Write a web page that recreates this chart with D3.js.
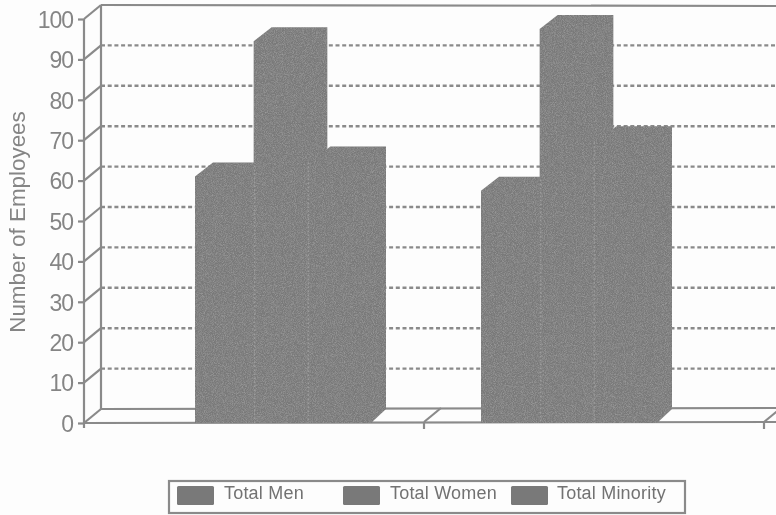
<!DOCTYPE html>
<html lang="en">
<head>
<meta charset="UTF-8">
<title>Number of Employees</title>
<script src="https://d3js.org/d3.v7.min.js"></script>
<style>
    html, body { margin: 0; padding: 0; background: #fdfdfd; }
    svg { display: block; }
    text { font-family: "Liberation Sans", Arial, sans-serif; }
</style>
</head>
<body>
<svg id="chart" width="776" height="515"></svg>
<script>
// values
var groups = ["Group 1", "Group 2"];
var series = ["Total Men", "Total Women", "Total Minority"];
var menValues = [61, 57.5];
var womenValues = [94.5, 97.5];
var minorityValues = [65, 70];
var yTicks = [0, 10, 20, 30, 40, 50, 60, 70, 80, 90, 100];
var values = [menValues, womenValues, minorityValues];

var gray = "#8a8a8a", barColor = "#797979", textColor = "#858585";
var dx = 17, dy = 14; // 3d depth
var barDxLeft = 18, barDxRight = 15; // the bar tops lean a little unevenly

var svg = d3.select("#chart");

var defs = svg.append("defs");
defs.append("filter").attr("id", "scan")
    .append("feGaussianBlur").attr("stdDeviation", 0.45);

// faint mottled print look on the dark fills
var grain = defs.append("filter").attr("id", "grain");
grain.append("feTurbulence")
    .attr("type", "fractalNoise").attr("baseFrequency", 1.1)
    .attr("numOctaves", 2).attr("seed", 4).attr("result", "n");
grain.append("feColorMatrix").attr("in", "n").attr("type", "matrix")
    .attr("values", "0 0 0 0 0.56  0 0 0 0 0.56  0 0 0 0 0.56  0.7 0 0 0 -0.26")
    .attr("result", "spots");
grain.append("feComposite").attr("in", "spots").attr("in2", "SourceGraphic")
    .attr("operator", "in").attr("result", "clipped");
var grainMerge = grain.append("feMerge");
grainMerge.append("feMergeNode").attr("in", "SourceGraphic");
grainMerge.append("feMergeNode").attr("in", "clipped");

var root = svg.append("g").attr("filter", "url(#scan)");

var y = d3.scaleLinear().domain([0, 100]).range([423, 19]);
// the category axis has even slots, the bars do not sit centred in them
var slot = d3.scalePoint().domain([0, 1, 2]).range([84, 764]);
var x0 = d3.scalePoint().domain(groups).range([195, 481]);
var x1 = d3.scaleBand().domain(series).range([0, 176]);

// back wall gridlines
root.selectAll(".grid")
    .data(yTicks.filter(function (d) { return d > 0 && d < 100; }))
    .enter().append("line")
    .attr("class", "grid")
    .attr("x1", 84 + dx).attr("x2", 776)
    .attr("y1", function (d) { return y(d) - dy; })
    .attr("y2", function (d) { return y(d) - dy; })
    .attr("stroke", gray)
    .attr("stroke-width", 2.4)
    .attr("stroke-dasharray", "4,2.7");

// walls
root.append("line").attr("x1", 84 + dx).attr("x2", 776)
    .attr("y1", y(100) - dy).attr("y2", y(100) - dy + 1)
    .attr("stroke", gray).attr("stroke-width", 2.2);
root.append("line").attr("x1", 84 + dx).attr("x2", 84 + dx)
    .attr("y1", y(100) - dy).attr("y2", y(0) - dy)
    .attr("stroke", gray).attr("stroke-width", 2.2);
root.append("line").attr("x1", 84 + dx).attr("x2", 776)
    .attr("y1", y(0) - dy).attr("y2", y(0) - dy - 1)
    .attr("stroke", gray).attr("stroke-width", 2.2);
root.append("line").attr("x1", 84).attr("x2", 776)
    .attr("y1", y(0)).attr("y2", y(0) - 1)
    .attr("stroke", gray).attr("stroke-width", 2.2);

// slanted lines from the axis ticks to the wall
root.selectAll(".slant")
    .data(yTicks)
    .enter().append("line")
    .attr("class", "slant")
    .attr("x1", 84).attr("x2", 84 + dx)
    .attr("y1", function (d) { return y(d); })
    .attr("y2", function (d) { return y(d) - dy; })
    .attr("stroke", gray).attr("stroke-width", 2.2);
root.selectAll(".floor")
    .data(slot.domain().slice(1))
    .enter().append("g")
    .attr("class", "floor")
    .each(function (d) {
        var g = d3.select(this);
        g.append("line").attr("x1", slot(d)).attr("x2", slot(d) + dx)
            .attr("y1", y(0) - 1).attr("y2", y(0) - dy - 1);
        g.append("line").attr("x1", slot(d)).attr("x2", slot(d))
            .attr("y1", y(0) - 1).attr("y2", y(0) + 6);
    })
    .selectAll("line").attr("stroke", gray).attr("stroke-width", 2.2);

// bars
var barData = [];
groups.forEach(function (g, i) {
    series.forEach(function (s, j) {
        barData.push({ group: g, name: s, value: values[j][i] });
    });
});

function barPath(d) {
    var l = x0(d.group) + x1(d.name), r = l + x1.bandwidth();
    var t = y(d.value), b = y(0);
    return "M" + l + "," + b + "L" + l + "," + t + "L" + (l + barDxLeft) + "," + (t - dy) +
        "L" + (r + barDxRight) + "," + (t - dy) + "L" + (r + barDxRight) + "," + (b - dy) + "L" + r + "," + b + "Z";
}

root.append("g")
    .attr("filter", "url(#grain)")
    .selectAll(".bar")
    .data(barData)
    .enter().append("path")
    .attr("class", "bar")
    .attr("d", barPath)
    .attr("fill", barColor);

// light dotted seams between the bars
function prevValue(d) {
    var i = groups.indexOf(d.group), j = series.indexOf(d.name);
    return values[j - 1][i];
}
function seamX(d) {
    return x0(d.group) + x1(d.name) + (d.name === "Total Women" ? 1 : -4);
}
root.selectAll(".seam")
    .data(barData.filter(function (d) { return d.name !== "Total Men"; }))
    .enter().append("line")
    .attr("class", "seam")
    .attr("x1", seamX)
    .attr("x2", seamX)
    .attr("y1", function (d) { return d.name === "Total Women" ? y(prevValue(d)) - dy + 3 : y(d.value) + 2; })
    .attr("y2", y(0))
    .attr("stroke", "#9c9c9c")
    .attr("stroke-width", 1.5)
    .attr("stroke-dasharray", "1.5,2.5");

// y axis
var yAxis = d3.axisLeft(y).tickValues(yTicks).tickSize(6).tickPadding(5);
var axisG = root.append("g")
    .attr("transform", "translate(84,0)")
    .call(yAxis);
axisG.select(".domain").attr("stroke", gray).attr("stroke-width", 2.2).attr("d", "M0," + y(100) + "V" + (y(0) + 5));
axisG.selectAll(".tick line").attr("stroke", gray).attr("stroke-width", 2.2);
axisG.selectAll(".tick text")
    .attr("fill", textColor)
    .attr("font-size", 23)
    .attr("letter-spacing", "-1")
    .attr("y", 1)
    .style("font-family", "'Liberation Sans', Arial, sans-serif");

root.append("text")
    .attr("transform", "translate(25,222) rotate(-90)")
    .attr("text-anchor", "middle")
    .attr("fill", textColor)
    .attr("font-size", 22.4)
    .text("Number of Employees");

// legend
var legendStart = d3.scaleOrdinal().domain(series).range([177, 343, 511]);
var legendText = d3.scaleOrdinal().domain(series).range([224, 390, 557]);

root.append("rect")
    .attr("x", 169).attr("y", 481)
    .attr("width", 516).attr("height", 32)
    .attr("fill", "none").attr("stroke", gray).attr("stroke-width", 2.2);

var legend = root.selectAll(".legend")
    .data(series)
    .enter().append("g")
    .attr("class", "legend");
legend.append("rect")
    .attr("x", legendStart).attr("y", 486)
    .attr("width", 37).attr("height", 19).attr("rx", 1.5)
    .attr("fill", barColor);
legend.append("text")
    .attr("x", legendText).attr("y", 499)
    .attr("fill", "#727272")
    .attr("font-size", 18)
    .attr("letter-spacing", "0.2")
    .text(function (d) { return d; });
</script>
</body>
</html>
